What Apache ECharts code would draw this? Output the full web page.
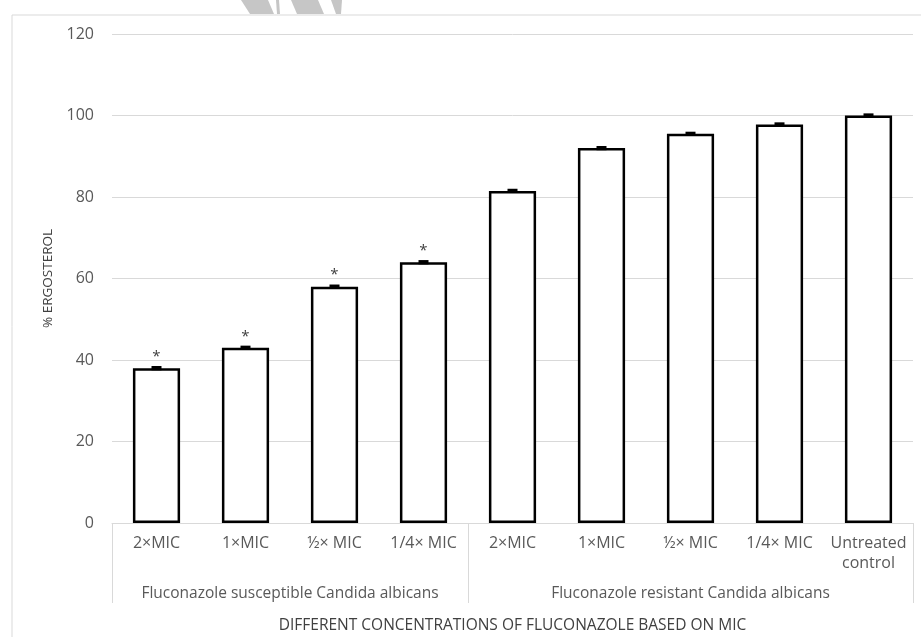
<!DOCTYPE html>
<html>
<head>
<meta charset="utf-8">
<script src="https://cdn.jsdelivr.net/npm/echarts@6/dist/echarts.min.js"></script>
<style>
  html, body { margin: 0; padding: 0; background: #fff; }
  #chart { width: 921px; height: 637px; }
</style>
</head>
<body>
<div id="chart"></div>
<script>
// categories along the x axis
const categories = ['2×MIC', '1×MIC', '½× MIC', '1/4× MIC', '2×MIC', '1×MIC', '½× MIC', '1/4× MIC', 'Untreated\ncontrol']
// % ergosterol
const values = [38, 43, 58, 64, 81.5, 92, 95.5, 97.8, 100]
// small error bars
const errors = [0.4, 0.4, 0.4, 0.4, 0.4, 0.4, 0.4, 0.4, 0.4]
// significance marks
const marks = ['*', '*', '*', '*', '', '', '', '', '']
// group labels (position in half-category units) and separators
const groupNames = ['Fluconazole susceptible Candida albicans', 'Fluconazole resistant Candida albicans']
const groupCenters = [4, 13]
const groupBounds = [0, 8, 18]

const textColor = '#595959'
const lineColor = '#d9d9d9'
const font = 'Open Sans'

const myChart = echarts.init(document.getElementById('chart'))

const barData = values.map((v, i) => ({
    value: v,
    label: { show: marks[i] !== '', formatter: marks[i] }
}))

// watermark fragment at the very top (outside the chart frame)
const wm = '#c6c6c6'
const watermark = [
    [[241, 0], [268, 0], [274, 14], [250, 14]],
    [[276, 0], [279, 0], [280, 14], [277, 14]],
    [[291, 0], [318, 0], [324, 14], [297, 14]],
    [[331, 0], [342, 0], [341, 14], [336, 14]]
].map(pts => ({
    type: 'polygon', shape: { points: pts }, style: { fill: wm }, silent: true
}))

myChart.setOption({
    animation: false,
    textStyle: { fontFamily: font },
    graphic: [{
        type: 'rect',
        shape: { x: 12, y: 15, width: 940, height: 660 },
        style: { fill: 'none', stroke: lineColor, lineWidth: 1 },
        silent: true
    }].concat(watermark),
    grid: { left: 112, right: 8, top: 34, bottom: 114, outerBoundsMode: 'none', containLabel: false },
    xAxis: [{
        type: 'category',
        data: categories,
        axisLine: { show: true, lineStyle: { color: lineColor } },
        axisTick: { show: false },
        axisLabel: { color: textColor, fontSize: 16, margin: 10, interval: 0, lineHeight: 20 }
    }, {
        type: 'value',
        position: 'bottom',
        min: 0,
        max: 18,
        axisLine: { show: false },
        splitLine: { show: false },
        axisTick: {
            show: true, customValues: groupBounds, length: 80,
            lineStyle: { color: lineColor }
        },
        axisLabel: {
            show: true, customValues: groupCenters, margin: 61,
            color: textColor, fontSize: 15.5, lineHeight: 20,
            formatter: function (v) {
                return groupNames[groupCenters.indexOf(v)] || ''
            }
        },
        name: 'DIFFERENT CONCENTRATIONS OF FLUCONAZOLE BASED ON MIC',
        nameLocation: 'middle',
        nameGap: 95,
        nameTextStyle: { color: '#404040', fontSize: 15.5 }
    }],
    yAxis: {
        type: 'value',
        min: 0,
        max: 120,
        interval: 20,
        axisLine: { show: false },
        axisTick: { show: false },
        splitLine: { lineStyle: { color: lineColor } },
        axisLabel: { color: textColor, fontSize: 16, margin: 18 },
        name: '% ERGOSTEROL',
        nameLocation: 'middle',
        nameGap: 57,
        nameTextStyle: { color: '#404040', fontSize: 13.5 }
    },
    series: [{
        type: 'bar',
        data: barData,
        barWidth: '53%',
        itemStyle: { color: '#fff', borderColor: '#000', borderWidth: 2.5 },
        label: { position: 'top', distance: 4, color: '#404040', fontSize: 15 }
    }, {
        type: 'custom',
        data: values.map((v, i) => [i, v, errors[i]]),
        renderItem: function (params, api) {
            const x = api.coord([api.value(0), api.value(1)])[0]
            const yHi = api.coord([api.value(0), api.value(1) + api.value(2)])[1]
            const yLo = api.coord([api.value(0), api.value(1) - api.value(2)])[1]
            return {
                type: 'rect',
                shape: { x: x - 5, y: yHi - 0.5, width: 10, height: Math.max(yLo - yHi, 1) + 1 },
                style: { fill: '#000' }
            }
        },
        z: 3
    }]
})

window.addEventListener('resize', myChart.resize)
</script>
</body>
</html>
